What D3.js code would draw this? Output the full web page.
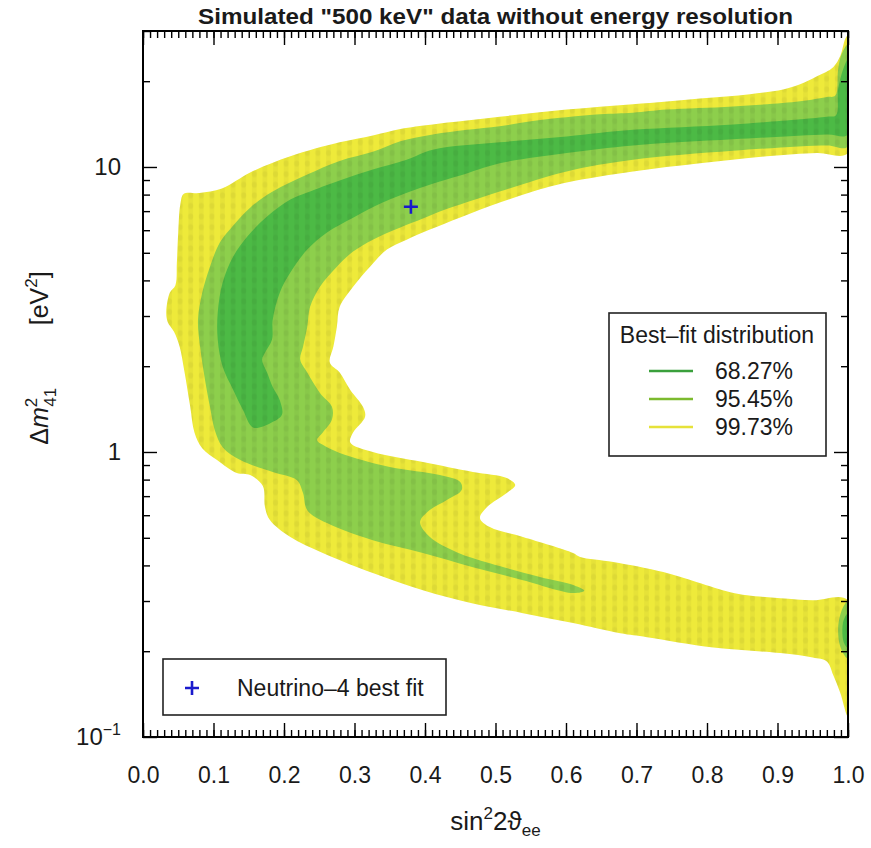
<!DOCTYPE html>
<html><head><meta charset="utf-8">
<script src="https://cdn.jsdelivr.net/npm/d3@7"></script>
<style>body{margin:0;background:#fff}text{font-family:"Liberation Sans",Arial,sans-serif;fill:#1a1a1a}</style>
</head><body><svg id="c" width="871" height="848"></svg>
<script>
// ---------- data ----------
const xTicks = [0.0,0.1,0.2,0.3,0.4,0.5,0.6,0.7,0.8,0.9,1.0];
const xTickLabels = ["0.0","0.1","0.2","0.3","0.4","0.5","0.6","0.7","0.8","0.9","1.0"];
const yMajorTicks = [0.1,1,10];
const yTickBase = ["10","1","10"];
const yTickExp = ["\u22121","",""];
const levelNames = ["68.27%","95.45%","99.73%"];
const levelColors = ["#4cba45","#8dcf4c","#eeea3a"];
const legendLineColors = ["#3aa03c","#7cba2e","#e6e23a"];
const bestFit = [0.38, 7.25];

// 99.73% region [sin^2 2theta, dm^2]
const contour9973 = [[1.0,29.0],[0.996,28.1],[0.989,24.5],[0.979,22.4],[0.956,20.8],[0.932,19.5],[0.908,18.7],[0.861,18.0],[0.790,17.4],[0.695,16.6],[0.601,15.9],[0.506,15.0],[0.411,14.1],[0.365,13.6],[0.326,12.9],[0.279,12.2],[0.209,10.9],[0.152,9.56],[0.112,8.40],[0.080,8.10],[0.058,8.05],[0.053,7.40],[0.050,5.90],[0.048,4.60],[0.046,3.85],[0.038,3.62],[0.033,3.10],[0.035,2.86],[0.044,2.64],[0.052,2.34],[0.059,1.90],[0.067,1.44],[0.073,1.17],[0.084,1.03],[0.105,0.937],[0.133,0.844],[0.152,0.830],[0.170,0.760],[0.173,0.641],[0.180,0.577],[0.209,0.503],[0.255,0.442],[0.326,0.376],[0.397,0.327],[0.468,0.294],[0.539,0.272],[0.610,0.251],[0.677,0.231],[0.715,0.224],[0.809,0.206],[0.904,0.197],[0.950,0.190],[0.970,0.184],[0.979,0.165],[0.989,0.143],[1.0,0.118],
[1.0,0.302],[0.950,0.302],[0.904,0.307],[0.857,0.314],[0.833,0.322],[0.786,0.349],[0.738,0.379],[0.667,0.411],[0.620,0.428],[0.610,0.442],[0.539,0.503],[0.492,0.545],[0.478,0.586],[0.488,0.641],[0.516,0.718],[0.528,0.766],[0.516,0.810],[0.468,0.851],[0.397,0.922],[0.326,1.00],[0.294,1.08],[0.298,1.17],[0.315,1.33],[0.312,1.44],[0.294,1.65],[0.279,1.90],[0.265,2.06],[0.270,2.34],[0.275,2.75],[0.279,3.23],[0.298,3.80],[0.322,4.47],[0.346,5.13],[0.374,5.56],[0.407,6.03],[0.450,6.65],[0.506,7.50],[0.553,8.20],[0.601,8.82],[0.695,9.64],[0.790,10.3],[0.885,10.9],[0.956,11.2],[1.0,11.2]];

// 95.45% region
const contour9545 = [[1.0,26.9],[0.991,24.9],[0.986,22.0],[0.982,17.8],[0.970,17.6],[0.932,17.0],[0.837,16.3],[0.743,15.9],[0.695,15.5],[0.648,15.3],[0.553,14.5],[0.506,13.9],[0.460,13.5],[0.411,13.0],[0.365,12.3],[0.326,11.3],[0.279,10.5],[0.233,9.41],[0.184,8.20],[0.152,7.20],[0.128,6.23],[0.109,5.43],[0.095,4.47],[0.084,3.62],[0.078,2.91],[0.081,2.34],[0.088,1.79],[0.095,1.44],[0.102,1.19],[0.113,1.04],[0.138,0.937],[0.184,0.851],[0.218,0.797],[0.227,0.718],[0.233,0.625],[0.261,0.563],[0.326,0.490],[0.397,0.442],[0.468,0.394],[0.539,0.355],[0.610,0.320],[0.626,0.326],[0.612,0.340],[0.563,0.364],[0.492,0.407],[0.445,0.445],[0.407,0.503],[0.393,0.567],[0.403,0.615],[0.431,0.678],[0.452,0.735],[0.450,0.784],[0.421,0.830],[0.350,0.886],[0.279,0.992],[0.255,1.06],[0.247,1.10],[0.255,1.17],[0.268,1.30],[0.268,1.44],[0.251,1.61],[0.233,1.90],[0.223,2.11],[0.227,2.34],[0.233,2.75],[0.237,3.23],[0.251,3.80],[0.275,4.47],[0.298,5.05],[0.326,5.56],[0.365,6.13],[0.397,6.59],[0.421,6.98],[0.450,7.38],[0.506,8.20],[0.601,9.65],[0.695,10.6],[0.837,11.4],[0.970,11.9],[1.0,11.8]];
const blob9545 = [[1.0,0.300],[0.993,0.285],[0.987,0.255],[0.986,0.235],[0.988,0.212],[0.994,0.195],[1.0,0.188]];

// 68.27% region
const contour6827 = [[1.0,23.9],[0.993,22.0],[0.986,18.7],[0.983,15.2],[0.970,15.0],[0.837,14.1],[0.695,13.5],[0.601,12.8],[0.506,12.2],[0.411,11.5],[0.374,10.6],[0.326,9.80],[0.279,8.97],[0.233,8.14],[0.209,7.69],[0.176,6.70],[0.148,5.70],[0.128,4.85],[0.113,3.93],[0.106,3.08],[0.106,2.48],[0.113,1.99],[0.128,1.65],[0.142,1.40],[0.156,1.22],[0.180,1.26],[0.197,1.35],[0.194,1.52],[0.184,1.69],[0.176,1.90],[0.169,2.11],[0.173,2.23],[0.183,2.48],[0.184,2.91],[0.194,3.62],[0.209,4.26],[0.233,5.13],[0.261,5.89],[0.298,6.64],[0.340,7.50],[0.383,8.27],[0.421,8.89],[0.450,9.33],[0.506,10.3],[0.601,11.2],[0.695,11.9],[0.837,12.5],[0.970,13.0],[1.0,13.0]];
const blob6827 = [[1.0,0.272],[0.994,0.258],[0.992,0.235],[0.994,0.215],[1.0,0.205]];

// ---------- drawing ----------
const M = {l:143, r:848, t:31, b:737};
const x = d3.scaleLinear().domain([0,1]).range([M.l, M.r]);
const y = d3.scaleLog().domain([0.1,30]).range([M.b, M.t]);
const svg = d3.select('#c');
const defs = svg.append('defs');
defs.append('clipPath').attr('id','plot').append('rect')
  .attr('x',M.l).attr('y',M.t).attr('width',M.r-M.l).attr('height',M.b-M.t);

const shape = d3.line().x(d=>x(d[0])).y(d=>y(d[1])).curve(d3.curveCatmullRomClosed.alpha(0.5));
defs.append('clipPath').attr('id','outer').append('path').attr('d', shape(contour9973));

// texture of the binned distribution (subtle vertical bands with dots)
const pat = defs.append('pattern').attr('id','tex').attr('patternUnits','userSpaceOnUse')
  .attr('x',M.l).attr('y',M.t).attr('width',10.6).attr('height',10.6);
pat.append('rect').attr('x',3).attr('y',0).attr('width',4.5).attr('height',10.6).attr('fill','#000').attr('opacity',0.035);
pat.append('ellipse').attr('cx',5.3).attr('cy',5.3).attr('rx',2.6).attr('ry',3).attr('fill','#000').attr('opacity',0.035);

const regions = [
  {pts:contour9973, c:levelColors[2]},
  {pts:contour9545, c:levelColors[1]},
  {pts:blob9545, c:levelColors[1]},
  {pts:contour6827, c:levelColors[0]},
  {pts:blob6827, c:levelColors[0]}
];
const g = svg.append('g').attr('clip-path','url(#plot)');
g.selectAll('path.reg').data(regions).join('path').attr('class','reg')
  .attr('d', d=>shape(d.pts)).attr('fill', d=>d.c).attr('stroke','none');
g.append('g').attr('clip-path','url(#outer)').append('rect')
  .attr('x',M.l).attr('y',M.t).attr('width',M.r-M.l).attr('height',M.b-M.t).attr('fill','url(#tex)');

// axes
function styleAxis(sel){
  sel.select('.domain').remove();
  sel.selectAll('line').attr('stroke','#000').attr('stroke-width',1.4);
}
const minorX = x.ticks(100);
const minorY = y.ticks().filter(v=>!yMajorTicks.includes(v));
svg.append('g').attr('transform',`translate(0,${M.b})`)
  .call(d3.axisBottom(x).tickValues(minorX).tickSize(-7).tickFormat('')).call(styleAxis);
svg.append('g').attr('transform',`translate(0,${M.t})`)
  .call(d3.axisTop(x).tickValues(minorX).tickSize(-7).tickFormat('')).call(styleAxis);
const xb = svg.append('g').attr('transform',`translate(0,${M.b})`)
  .call(d3.axisBottom(x).tickValues(xTicks).tickSizeInner(-14).tickSizeOuter(0).tickPadding(30)
  .tickFormat((d,i)=>xTickLabels[i])).call(styleAxis);
xb.selectAll('text').attr('font-size',23).attr('fill','#1a1a1a').style('font-family','"Liberation Sans",Arial,sans-serif');
svg.append('g').attr('transform',`translate(0,${M.t})`)
  .call(d3.axisTop(x).tickValues(xTicks).tickSizeInner(-14).tickSizeOuter(0).tickFormat('')).call(styleAxis);

svg.append('g').attr('transform',`translate(${M.l},0)`)
  .call(d3.axisLeft(y).tickValues(minorY).tickSize(-7).tickFormat('')).call(styleAxis);
svg.append('g').attr('transform',`translate(${M.r},0)`)
  .call(d3.axisRight(y).tickValues(minorY).tickSize(-7).tickFormat('')).call(styleAxis);
svg.append('g').attr('transform',`translate(${M.l},0)`)
  .call(d3.axisLeft(y).tickValues(yMajorTicks).tickSizeInner(-14).tickSizeOuter(0).tickFormat('')).call(styleAxis);
svg.append('g').attr('transform',`translate(${M.r},0)`)
  .call(d3.axisRight(y).tickValues(yMajorTicks).tickSizeInner(-14).tickSizeOuter(0).tickFormat('')).call(styleAxis);

// y tick labels
yMajorTicks.forEach((v,i)=>{
  const t = svg.append('text').attr('x', M.l-22).attr('y', y(v)+8)
    .attr('text-anchor','end').attr('font-size',24);
  t.append('tspan').text(yTickBase[i]);
  if (yTickExp[i]) t.append('tspan').attr('dy',-10).attr('font-size',16).text(yTickExp[i]);
});

// frame
svg.append('rect').attr('x',M.l).attr('y',M.t).attr('width',M.r-M.l).attr('height',M.b-M.t)
  .attr('fill','none').attr('stroke','#000').attr('stroke-width',2);

// title
svg.append('text').attr('x',(M.l+M.r)/2).attr('y',24).attr('text-anchor','middle')
  .attr('font-size',22).attr('font-weight','bold').attr('textLength',595).attr('lengthAdjust','spacingAndGlyphs')
  .style('font-family','"Liberation Sans Narrow","Liberation Sans",Arial,sans-serif')
  .text('Simulated "500 keV" data without energy resolution');

// x label
const xl = svg.append('text').attr('x',(M.l+M.r)/2).attr('y',830).attr('text-anchor','middle').attr('font-size',26);
xl.append('tspan').text('sin');
xl.append('tspan').attr('dy',-11).attr('font-size',17).text('2');
xl.append('tspan').attr('dy',11).text('2\u03d1');
xl.append('tspan').attr('dy',6).attr('font-size',17).text('ee');

// y label
const yl = svg.append('text').attr('transform','translate(48,358) rotate(-90)').attr('text-anchor','middle').attr('font-size',25);
yl.append('tspan').text('\u0394');
yl.append('tspan').attr('font-style','italic').text('m');
yl.append('tspan').attr('dy',-11).attr('font-size',17).text('2');
yl.append('tspan').attr('dx',-9).attr('dy',19).attr('font-size',17).text('41');
yl.append('tspan').attr('dy',-8).text('\u2003\u2003\u2002[eV');
yl.append('tspan').attr('dy',-11).attr('font-size',17).text('2');
yl.append('tspan').attr('dy',11).text(']');

// best fit marker
const bx = x(bestFit[0]), by = y(bestFit[1]);
svg.append('path').attr('d',`M${bx-7},${by}H${bx+7}M${bx},${by-7}V${by+7}`)
  .attr('stroke','#1a1acc').attr('stroke-width',2.6);

// legend 1
svg.append('rect').attr('x',609).attr('y',313).attr('width',217).attr('height',143)
  .attr('fill','#fff').attr('stroke','#222').attr('stroke-width',1.6);
svg.append('text').attr('x',717).attr('y',343).attr('text-anchor','middle').attr('font-size',23).text('Best\u2013fit distribution');
levelNames.forEach((n,i)=>{
  const ly = 371 + i*28;
  svg.append('line').attr('x1',649).attr('x2',693).attr('y1',ly).attr('y2',ly)
    .attr('stroke',legendLineColors[i]).attr('stroke-width',2.4);
  svg.append('text').attr('x',715).attr('y',ly+8).attr('font-size',23).text(n);
});

// legend 2
svg.append('rect').attr('x',163).attr('y',659).attr('width',283).attr('height',56)
  .attr('fill','#fff').attr('stroke','#222').attr('stroke-width',1.6);
svg.append('path').attr('d','M185,688H199M192,681V695').attr('stroke','#1a1acc').attr('stroke-width',2.6);
svg.append('text').attr('x',237).attr('y',696).attr('font-size',23).text('Neutrino\u20134 best fit');
</script>
</body></html>
